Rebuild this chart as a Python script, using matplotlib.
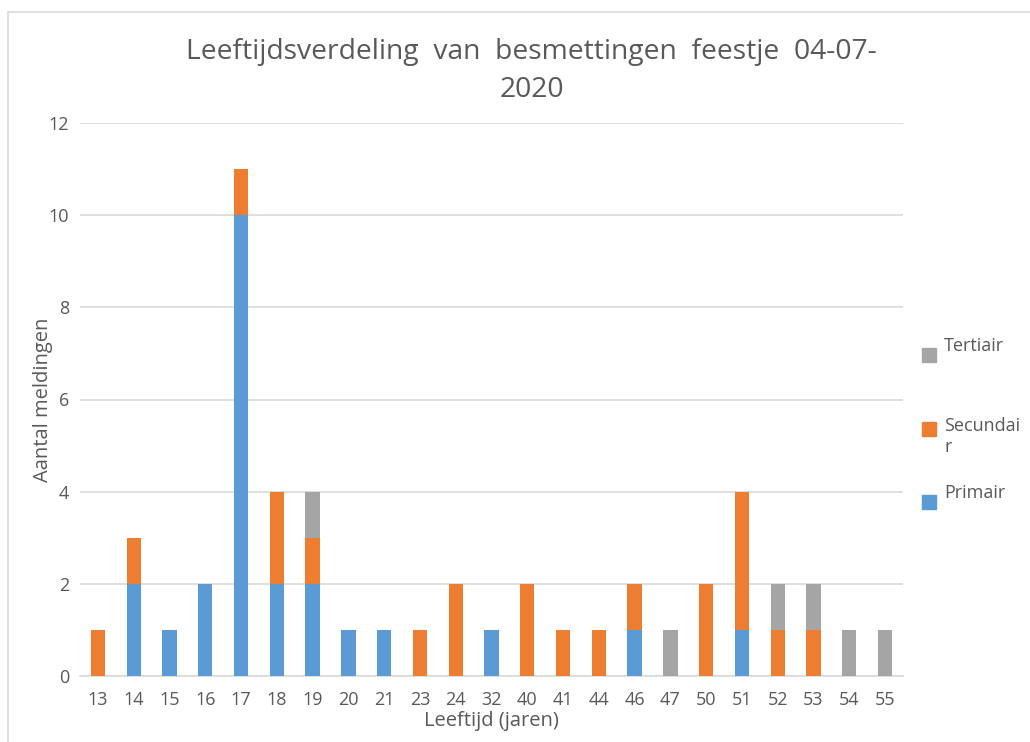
import matplotlib.pyplot as plt
from matplotlib.patches import Rectangle
import numpy as np

plt.rcParams['font.family'] = ['Open Sans', 'DejaVu Sans']

ages = ["13", "14", "15", "16", "17", "18", "19", "20", "21", "23", "24", "32",
        "40", "41", "44", "46", "47", "50", "51", "52", "53", "54", "55"]
primair = [0, 2, 1, 2, 10, 2, 2, 1, 1, 0, 0, 1, 0, 0, 0, 1, 0, 0, 1, 0, 0, 0, 0]
secundair = [1, 1, 0, 0, 1, 2, 1, 0, 0, 1, 2, 0, 2, 1, 1, 1, 0, 2, 3, 1, 1, 0, 0]
tertiair = [0, 0, 0, 0, 0, 0, 1, 0, 0, 0, 0, 0, 0, 0, 0, 0, 1, 0, 0, 1, 1, 1, 1]
series_names = ["Primair", "Secundai\nr", "Tertiair"]
yticks = [0, 2, 4, 6, 8, 10, 12]

blue = "#5B9BD5"
orange = "#ED7D31"
grey = "#A5A5A5"
text_col = "#595959"

W, H = 1030, 742
fig = plt.figure(figsize=(W / 100, H / 100), dpi=100)
ax = fig.add_axes([80 / W, 66 / H, 823 / W, 553 / H])

# chart border
fig.add_artist(Rectangle((8 / W, -0.1), 1.2, (H - 12) / H + 0.1,
                         transform=fig.transFigure, fill=False,
                         edgecolor="#D9D9D9", linewidth=1.2))

x = np.arange(len(ages))
p = np.array(primair)
s = np.array(secundair)
t = np.array(tertiair)
w = 0.4
ax.bar(x, p, w, color=blue, zorder=3)
ax.bar(x, s, w, bottom=p, color=orange, zorder=3)
ax.bar(x, t, w, bottom=p + s, color=grey, zorder=3)

ax.set_xlim(-0.5, len(ages) - 0.5)
ax.set_ylim(0, 12)
ax.set_yticks(yticks)
ax.set_xticks(x)
ax.set_xticklabels(ages)
ax.grid(axis="y", color="#D9D9D9", linewidth=1.2, zorder=0)
for sp in ["top", "right", "left"]:
    ax.spines[sp].set_visible(False)
ax.spines["bottom"].set_color("#D9D9D9")
ax.spines["bottom"].set_linewidth(1.2)
ax.tick_params(axis="x", length=0, labelsize=13, colors=text_col, pad=11)
ax.tick_params(axis="y", length=0, labelsize=13, colors=text_col, pad=8)

ax.set_ylabel("Aantal meldingen", fontsize=14.5, color=text_col, labelpad=-3)
ax.set_xlabel("Leeftijd (jaren)", fontsize=14.5, color=text_col, labelpad=1)

fig.text(0.516, 1 - 52 / H, "Leeftijdsverdeling  van  besmettingen  feestje  04-07-",
         ha="center", va="center", fontsize=20.3, color=text_col)
fig.text(0.516, 1 - 90 / H, "2020", ha="center", va="center", fontsize=20.3, color=text_col)

# legend, drawn by hand to keep the wrapped label layout
legend_items = [(series_names[2], grey), (series_names[1], orange), (series_names[0], blue)]
sq_tops = [348, 422, 495]
line_h = 27
for (name, col), top in zip(legend_items, sq_tops):
    fig.add_artist(Rectangle((922 / W, 1 - (top + 14) / H), 14 / W, 14 / H,
                             transform=fig.transFigure, color=col))
    base = top + 3 + line_h * name.count("\n")
    fig.text(944 / W, 1 - base / H, name, ha="left", va="baseline",
             fontsize=13, color=text_col)

fig.savefig("out.png", dpi=100)
